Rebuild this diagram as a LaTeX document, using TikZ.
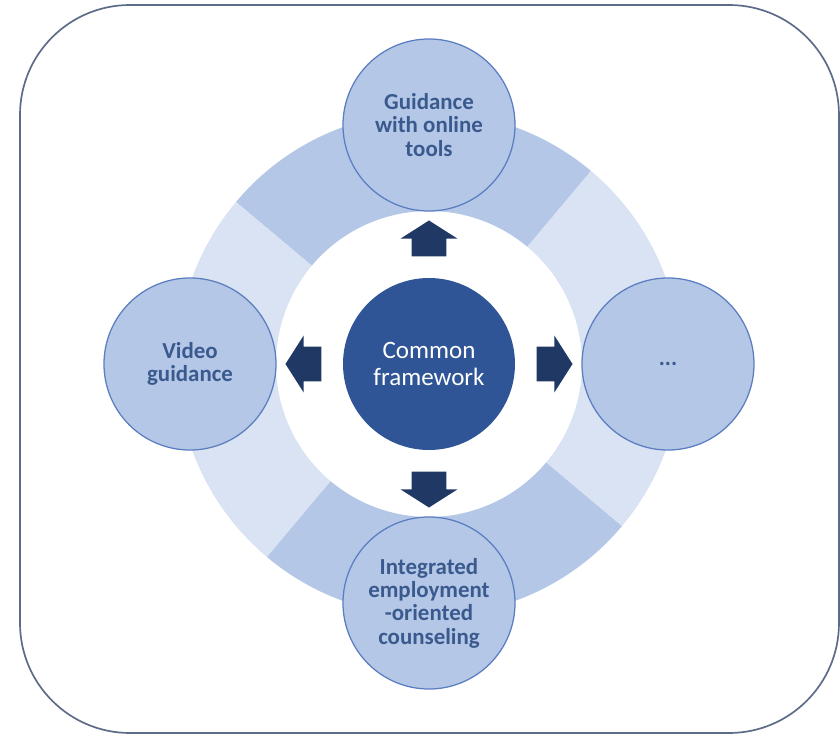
\documentclass[tikz,border=0pt]{standalone}
\usepackage{fontspec}
\setmainfont{Carlito}
\usetikzlibrary{shapes.arrows}
\definecolor{ringdark}{HTML}{B4C7E7}
\definecolor{ringlight}{HTML}{DAE3F3}
\definecolor{satfill}{HTML}{B4C7E7}
\definecolor{satline}{HTML}{5A7EC0}
\definecolor{sattext}{HTML}{3A5A8E}
\definecolor{corefill}{HTML}{2F5597}
\definecolor{arrowfill}{HTML}{1F3864}
\definecolor{framecol}{HTML}{5B6B88}
\tikzset{
  satellite/.style={circle, fill=satfill, draw=satline, line width=0.9pt, minimum size=4.3cm, inner sep=0pt,
    align=center, text=sattext, font=\fontsize{16.3}{16.6}\selectfont\bfseries},
  core/.style={circle, fill=corefill, minimum size=4.3cm, inner sep=0pt, align=center, text=white,
    font=\fontsize{17.8}{19.2}\selectfont},
  blockarrow/.style={single arrow, fill=arrowfill, minimum height=0.9cm, minimum width=1.4cm,
    single arrow head extend=0.275cm, single arrow tip angle=115, inner xsep=0pt, inner ysep=0.425cm}
}
\begin{document}
\begin{tikzpicture}[line join=round]
    \def\rin{3.825}\def\rout{6.3}\def\rsat{5.975}
    \useasboundingbox (-10.725,-9.25) rectangle (10.275,9.1);
    \draw[framecol, line width=1.2pt, rounded corners=2.75cm] (-10.225,-9.225) rectangle (10.25,8.975);
    % ring of four sectors
    \foreach \a/\c in {50/ringdark,140/ringlight,230/ringdark,320/ringlight}
        \fill[\c] (\a:\rin) -- (\a:\rout) arc[start angle=\a, delta angle=90, radius=\rout]
            -- (\a+90:\rin) arc[start angle=\a+90, delta angle=-90, radius=\rin] -- cycle;
    \node[core] (frame) at (0,0) {Common\\framework};
    \node[satellite] (online) at (90:\rsat) {Guidance\\with online\\tools};
    \node[satellite] (video) at (180:\rsat) {Video\\guidance};
    \node[satellite] (more) at (0:\rsat) {...};
    \node[satellite] (counsel) at (270:\rsat) {Integrated\\employment\\-oriented\\counseling};
    % block arrows out of the core
    \foreach \a/\n in {90/arrU,180/arrL,0/arrR,270/arrD}
        \node[blockarrow, rotate=\a] (\n) at (\a:3.0) {};
\end{tikzpicture}
\end{document}
